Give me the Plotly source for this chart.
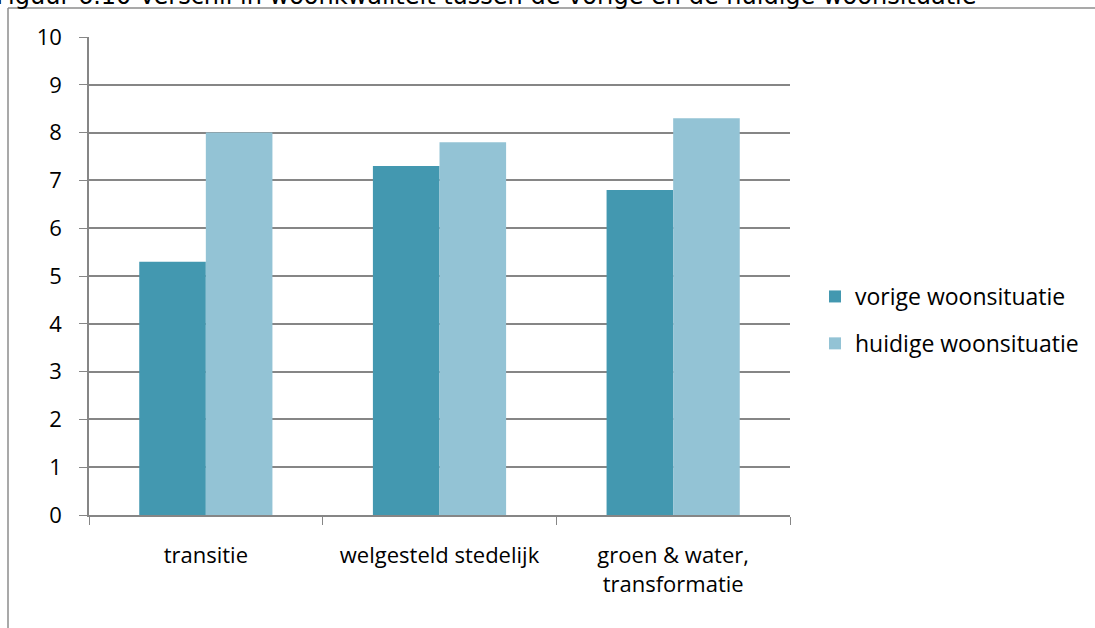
import plotly.graph_objects as go

# Gebieden en rapportcijfers woonkwaliteit
categories = ["transitie", "welgesteld stedelijk", "groen & water,<br>transformatie"]
vorige = [5.3, 7.3, 6.8]
huidige = [8.0, 7.8, 8.3]
series_names = ["vorige woonsituatie", "huidige woonsituatie"]
title_text = "Figuur 6.10 Verschil in woonkwaliteit tussen de vorige en de huidige woonsituatie"

W, H = 1095, 628
ML, MR, MT, MB = 89, 305, 37, 113
pw, ph = W - ML - MR, H - MT - MB

def px_x(px):
    return (px - ML) / pw

def px_y(py):
    return (H - MB - py) / ph

label_font = dict(family="Open Sans, Calibri, sans-serif", size=22, color="#000000")
legend_font = dict(label_font, size=23)
grid_col = "#868686"

fig = go.Figure()
fig.add_trace(go.Bar(x=categories, y=vorige, name=series_names[0], legendgroup="a",
                     marker=dict(color="#4398B0", line=dict(width=0))))
fig.add_trace(go.Bar(x=categories, y=huidige, name=series_names[1], legendgroup="b",
                     marker=dict(color="#93C3D5", line=dict(width=0))))

fig.update_layout(
    width=W, height=H,
    margin=dict(l=ML, r=MR, t=MT, b=MB, autoexpand=False),
    paper_bgcolor="white", plot_bgcolor="white",
    barmode="group", bargap=0.43, bargroupgap=0,
    font=label_font,
    showlegend=True,
    legend=dict(x=px_x(815), y=px_y(275), xanchor="left", yanchor="top",
                font=legend_font, bgcolor="rgba(0,0,0,0)",
                traceorder="grouped", tracegroupgap=14, itemsizing="constant"),
    xaxis=dict(type="category", tickson="boundaries", ticks="outside",
               ticklen=8, tickcolor=grid_col, showline=True, linecolor=grid_col,
               linewidth=1.5, showgrid=False, tickfont=label_font,
               ticklabelstandoff=20),
    yaxis=dict(range=[0, 10], dtick=1, tick0=0, ticks="outside", ticklen=8,
               tickcolor=grid_col, showline=True, linecolor=grid_col,
               linewidth=1.5, showgrid=True, gridcolor=grid_col, gridwidth=1.5,
               zeroline=False, tickfont=label_font, ticklabelstandoff=13),
)

# Kader rond de figuur en bovenste lijn onder de titel
frame = dict(type="line", xref="paper", yref="paper",
             line=dict(color="#8c8c8c", width=1.5))
fig.add_shape(**frame, x0=px_x(8), x1=px_x(8), y0=px_y(8), y1=px_y(640))
fig.add_shape(**frame, x0=px_x(8), x1=px_x(1100), y0=px_y(8), y1=px_y(8))

fig.add_annotation(text=title_text, xref="paper", yref="paper",
                   x=px_x(-6), y=px_y(12), xanchor="left", yanchor="bottom",
                   showarrow=False,
                   font=dict(family="DejaVu Sans, Verdana, sans-serif",
                             size=24, color="#000000"))

fig.write_html("out.html")
